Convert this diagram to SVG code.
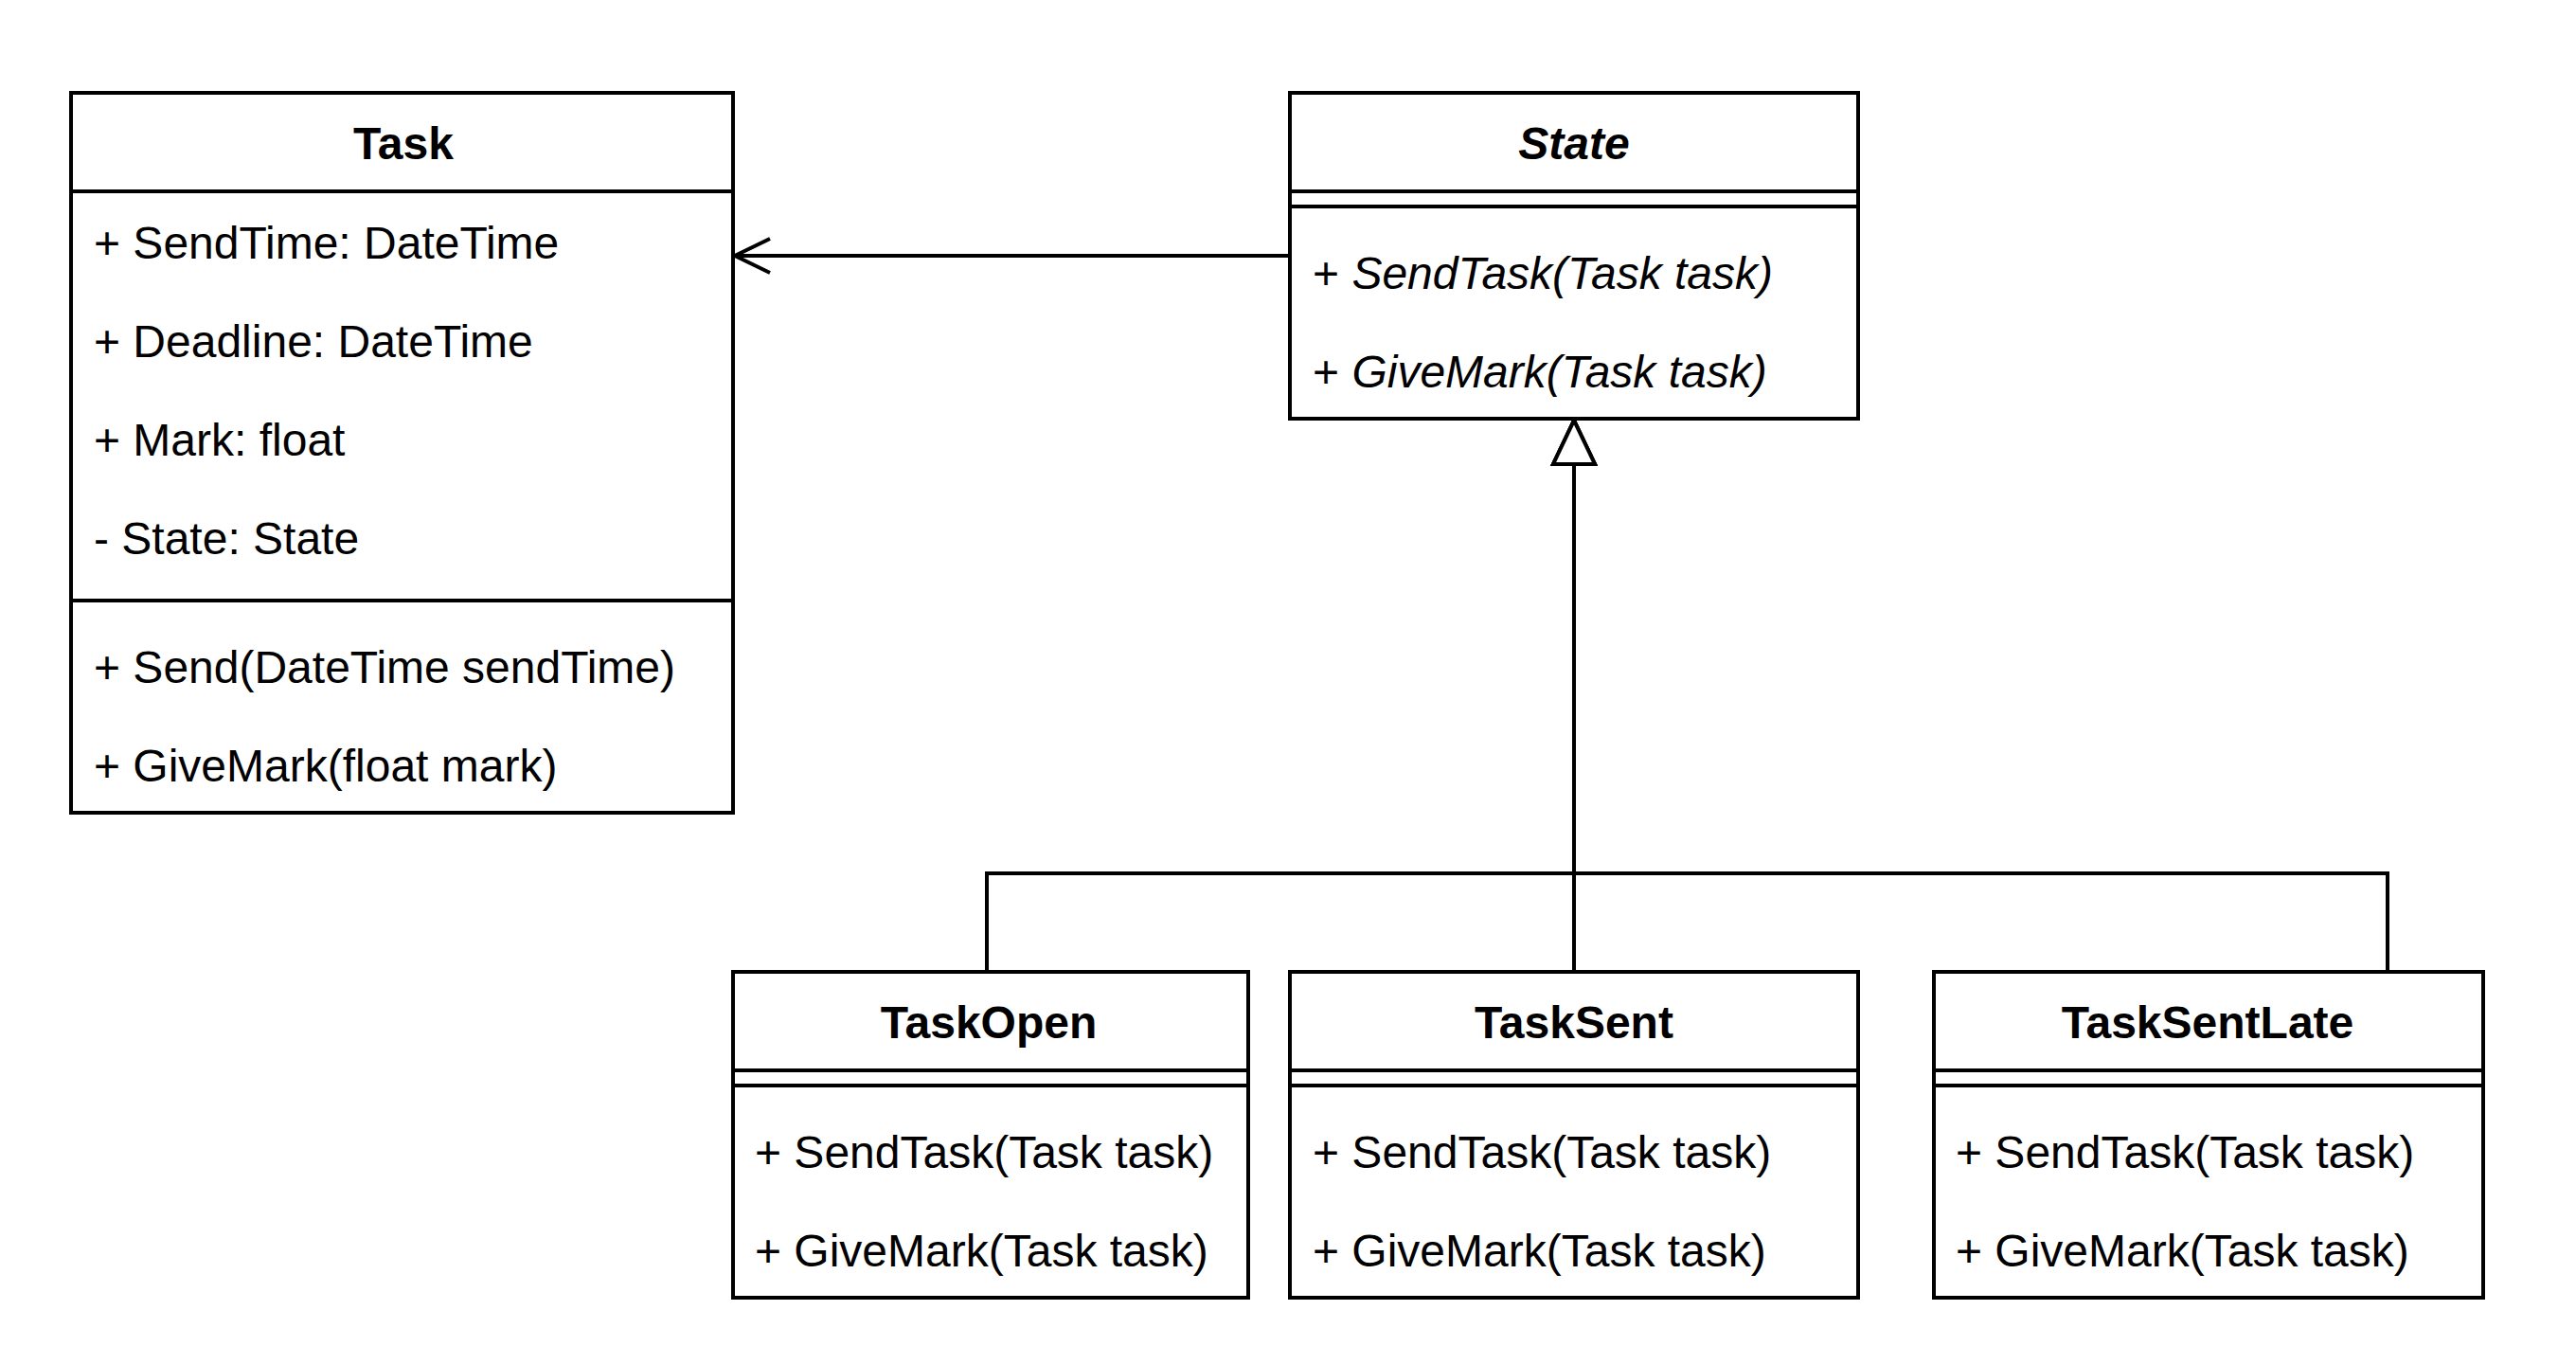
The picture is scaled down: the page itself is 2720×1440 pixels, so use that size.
<svg xmlns="http://www.w3.org/2000/svg" width="2720" height="1440" viewBox="0 0 2720 1440">
  <style>
    .box { fill: #ffffff; stroke: #000000; stroke-width: 4; }
    .sep { stroke: #000000; stroke-width: 4; fill: none; }
    .edge { stroke: #000000; stroke-width: 4; fill: none; stroke-linejoin: miter; }
    text { font-family: "Liberation Sans", Arial, sans-serif; font-size: 48px; fill: #000000; }
    .title { font-weight: bold; text-anchor: middle; }
    .abstract { font-style: italic; }
  </style>
  <defs>
    <!-- open arrowhead for the association -->
    <marker id="openArrow" markerUnits="userSpaceOnUse" viewBox="-44 -24 50 48" refX="0" refY="0" markerWidth="50" markerHeight="48" orient="auto">
      <path d="M -37 -18 L 0 0 L -37 18" fill="none" stroke="#000000" stroke-width="4" stroke-linejoin="miter"/>
    </marker>
    <!-- hollow triangle for generalization -->
    <marker id="inherit" markerUnits="userSpaceOnUse" viewBox="-52 -30 58 60" refX="0" refY="0" markerWidth="58" markerHeight="60" orient="auto">
      <path d="M -46 -22 L 0 0 L -46 22 Z" fill="#ffffff" stroke="#000000" stroke-width="4" stroke-linejoin="miter"/>
    </marker>
  </defs>

  <rect width="2720" height="1440" fill="#ffffff"/>

  <g id="connectors">
    <path class="edge" d="M 1362 270 H 776" marker-end="url(#openArrow)"/>
    <path class="edge" d="M 1042 1026 V 922 H 1662 V 444" marker-end="url(#inherit)"/>
    <path class="edge" d="M 2521 1026 V 922 H 1662 V 444" marker-end="url(#inherit)"/>
    <path class="edge" d="M 1662 1026 V 444" marker-end="url(#inherit)"/>
  </g>

  <g id="task">
    <rect class="box" x="75" y="98" width="699" height="760"/>
    <line class="sep" x1="75" y1="202" x2="774" y2="202"/>
    <line class="sep" x1="75" y1="634" x2="774" y2="634"/>
    <text class="title" x="426" y="168">Task</text>
    <text x="99" y="273">+ SendTime: DateTime</text>
    <text x="99" y="377">+ Deadline: DateTime</text>
    <text x="99" y="481">+ Mark: float</text>
    <text x="99" y="585">- State: State</text>
    <text x="99" y="721">+ Send(DateTime sendTime)</text>
    <text x="99" y="825">+ GiveMark(float mark)</text>
  </g>

  <g id="state">
    <rect class="box" x="1362" y="98" width="600" height="344"/>
    <line class="sep" x1="1362" y1="202" x2="1962" y2="202"/>
    <line class="sep" x1="1362" y1="218" x2="1962" y2="218"/>
    <text class="title abstract" x="1662" y="168">State</text>
    <text x="1386" y="305">+ <tspan class="abstract">SendTask(Task task)</tspan></text>
    <text x="1386" y="409">+ <tspan class="abstract">GiveMark(Task task)</tspan></text>
  </g>

  <g id="task-open">
    <rect class="box" x="774" y="1026" width="544" height="344"/>
    <line class="sep" x1="774" y1="1130" x2="1318" y2="1130"/>
    <line class="sep" x1="774" y1="1146" x2="1318" y2="1146"/>
    <text class="title" x="1044" y="1096">TaskOpen</text>
    <text x="797" y="1233">+ SendTask(Task task)</text>
    <text x="797" y="1337">+ GiveMark(Task task)</text>
  </g>

  <g id="task-sent">
    <rect class="box" x="1362" y="1026" width="600" height="344"/>
    <line class="sep" x1="1362" y1="1130" x2="1962" y2="1130"/>
    <line class="sep" x1="1362" y1="1146" x2="1962" y2="1146"/>
    <text class="title" x="1662" y="1096">TaskSent</text>
    <text x="1386" y="1233">+ SendTask(Task task)</text>
    <text x="1386" y="1337">+ GiveMark(Task task)</text>
  </g>

  <g id="task-sent-late">
    <rect class="box" x="2042" y="1026" width="580" height="344"/>
    <line class="sep" x1="2042" y1="1130" x2="2622" y2="1130"/>
    <line class="sep" x1="2042" y1="1146" x2="2622" y2="1146"/>
    <text class="title" x="2331" y="1096">TaskSentLate</text>
    <text x="2065" y="1233">+ SendTask(Task task)</text>
    <text x="2065" y="1337">+ GiveMark(Task task)</text>
  </g>
</svg>
